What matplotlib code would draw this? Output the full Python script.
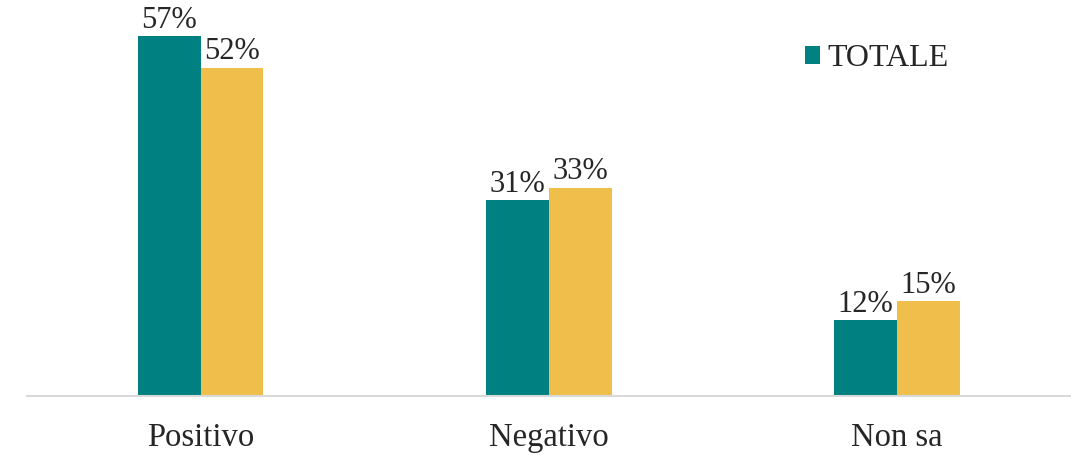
import numpy as np
import matplotlib.pyplot as plt
from matplotlib.patches import Patch

categorie = ["Positivo", "Negativo", "Non sa"]
totale = [57, 31, 12]
altro = [52, 33, 15]
etichetta_totale = "TOTALE"

TEAL = "#008080"
GIALLO = "#F0BE4B"

plt.rcParams["font.family"] = ["Liberation Serif", "DejaVu Serif"]

fig = plt.figure(figsize=(10.71, 4.55), dpi=100)
ax = fig.add_axes([0.025, 0.1297, 0.975, 0.833])

x = np.arange(len(categorie))
w = 0.18
b1 = ax.bar(x - w / 2, totale, width=w, color=TEAL, label=etichetta_totale)
b2 = ax.bar(x + w / 2, altro, width=w, color=GIALLO)

for bars, vals in [(b1, totale), (b2, altro)]:
    for r, v in zip(bars, vals):
        ax.text(r.get_x() + r.get_width() / 2, v + 0.2, f"{v}%",
                ha="center", va="bottom", fontsize=22, color="#262626")

ax.set_xlim(-0.5, 2.5)
ax.set_ylim(0, 60)
ax.set_xticks(x)
ax.set_xticklabels(categorie, fontsize=23.5, color="#262626")
ax.tick_params(axis="x", length=0, pad=19)
ax.set_yticks([])
for s in ["top", "right", "left"]:
    ax.spines[s].set_visible(False)
ax.spines["bottom"].set_color("#d9d9d9")
ax.spines["bottom"].set_linewidth(1.5)

handle = [Patch(facecolor=TEAL, edgecolor="none")]
fig.legend(handle, [etichetta_totale], loc="upper left",
           bbox_to_anchor=(0.7366, 0.938), frameon=False, fontsize=23,
           borderpad=0, handlelength=0.47, handleheight=0.47,
           handletextpad=0.25, labelcolor="#262626")

fig.savefig("out.png", dpi=100)
